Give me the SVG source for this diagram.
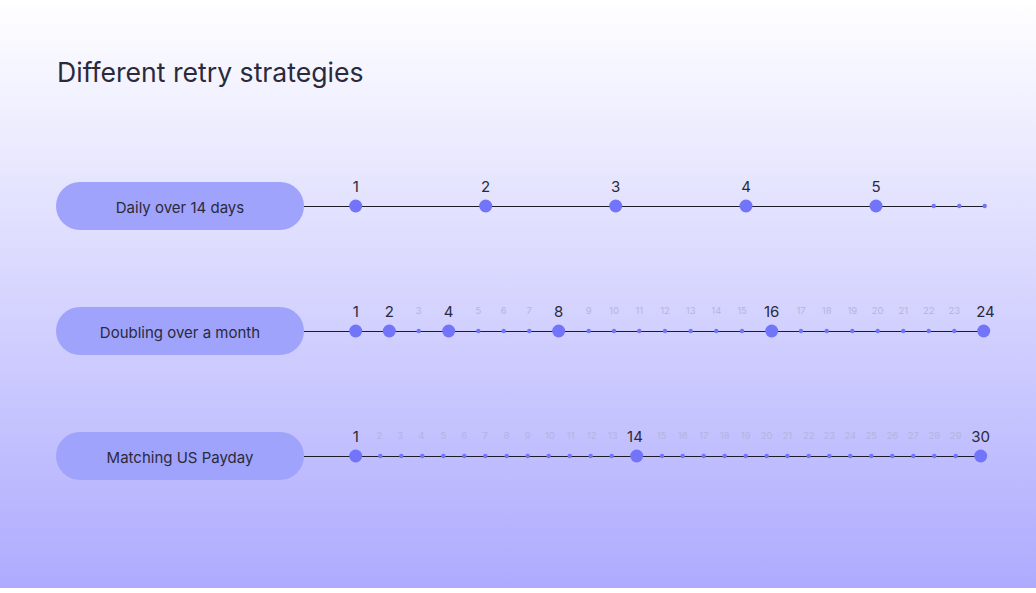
<svg xmlns="http://www.w3.org/2000/svg" width="1036" height="593" viewBox="0 0 1036 593">
<defs>
<linearGradient id="bg" x1="0" y1="0" x2="0" y2="1">
<stop offset="0" stop-color="#ffffff"/>
<stop offset="1" stop-color="#aeabfe"/>
</linearGradient>
<style>
.t{font-family:Inter,"Liberation Sans",sans-serif;fill:#2a2a3c}
.pill{fill:#a0a3fb}
.pl{font-size:15px;text-anchor:middle}
.ln{stroke:#1c1c28;stroke-width:1;fill:none}
.big{fill:#7274f9}
.sm{fill:#7274f9}
.bl{font-family:Inter,"Liberation Sans",sans-serif;font-size:15px;fill:#2a2a3c;text-anchor:middle}
.sl{font-family:Inter,"Liberation Sans",sans-serif;font-size:9.5px;fill:#b4b4de;text-anchor:middle}
</style>
</defs>
<rect x="0" y="0" width="1036" height="588" fill="url(#bg)"/>
<rect x="0" y="588" width="1036" height="5" fill="#ffffff"/>
<text class="t" x="57" y="82" font-size="26.6">Different retry strategies</text>

<g id="connectors">
<line class="ln" x1="304" y1="206.5" x2="985" y2="206.5"/>
<line class="ln" x1="304" y1="331.5" x2="984" y2="331.5"/>
<line class="ln" x1="304" y1="456.5" x2="981" y2="456.5"/>
</g>

<g id="node-daily">
<rect class="pill" x="56" y="182" width="248" height="48" rx="24"/>
<text class="t pl" x="180" y="213">Daily over 14 days</text>
</g>
<g id="node-doubling">
<rect class="pill" x="56" y="307" width="248" height="48" rx="24"/>
<text class="t pl" x="180" y="338">Doubling over a month</text>
</g>
<g id="node-payday">
<rect class="pill" x="56" y="432" width="248" height="48" rx="24"/>
<text class="t pl" x="180" y="463">Matching US Payday</text>
</g>

<g id="row-daily">
<circle class="big" cx="355.7" cy="206" r="6.5"/><text class="bl" x="355.7" y="192">1</text>
<circle class="big" cx="485.7" cy="206" r="6.5"/><text class="bl" x="485.7" y="192">2</text>
<circle class="big" cx="615.7" cy="206" r="6.5"/><text class="bl" x="615.7" y="192">3</text>
<circle class="big" cx="746" cy="206" r="6.5"/><text class="bl" x="746" y="192">4</text>
<circle class="big" cx="876" cy="206" r="6.5"/><text class="bl" x="876" y="192">5</text>
<circle class="sm" cx="933.7" cy="206" r="2.2"/>
<circle class="sm" cx="959.3" cy="206" r="2.2"/>
<circle class="sm" cx="984.7" cy="206" r="2.2"/>
</g>

<g id="row-doubling">
<circle class="big" cx="355.7" cy="331" r="6.5"/><text class="bl" x="355.7" y="317">1</text>
<circle class="big" cx="389.3" cy="331" r="6.5"/><text class="bl" x="389.3" y="317">2</text>
<circle class="sm" cx="418.7" cy="331" r="2.2"/><text class="sl" x="418.7" y="314">3</text>
<circle class="big" cx="448.7" cy="331" r="6.5"/><text class="bl" x="448.7" y="317">4</text>
<circle class="sm" cx="478.3" cy="331" r="2.2"/><text class="sl" x="478.3" y="314">5</text>
<circle class="sm" cx="503.7" cy="331" r="2.2"/><text class="sl" x="503.7" y="314">6</text>
<circle class="sm" cx="529.3" cy="331" r="2.2"/><text class="sl" x="529.3" y="314">7</text>
<circle class="big" cx="558.7" cy="331" r="6.5"/><text class="bl" x="558.7" y="317">8</text>
<circle class="sm" cx="588.7" cy="331" r="2.2"/><text class="sl" x="588.7" y="314">9</text>
<circle class="sm" cx="614" cy="331" r="2.2"/><text class="sl" x="614" y="314">10</text>
<circle class="sm" cx="639.3" cy="331" r="2.2"/><text class="sl" x="639.3" y="314">11</text>
<circle class="sm" cx="665" cy="331" r="2.2"/><text class="sl" x="665" y="314">12</text>
<circle class="sm" cx="690.7" cy="331" r="2.2"/><text class="sl" x="690.7" y="314">13</text>
<circle class="sm" cx="716.3" cy="331" r="2.2"/><text class="sl" x="716.3" y="314">14</text>
<circle class="sm" cx="742" cy="331" r="2.2"/><text class="sl" x="742" y="314">15</text>
<circle class="big" cx="771.7" cy="331" r="6.5"/><text class="bl" x="771.7" y="317">16</text>
<circle class="sm" cx="801" cy="331" r="2.2"/><text class="sl" x="801" y="314">17</text>
<circle class="sm" cx="826.7" cy="331" r="2.2"/><text class="sl" x="826.7" y="314">18</text>
<circle class="sm" cx="852.3" cy="331" r="2.2"/><text class="sl" x="852.3" y="314">19</text>
<circle class="sm" cx="877.7" cy="331" r="2.2"/><text class="sl" x="877.7" y="314">20</text>
<circle class="sm" cx="903.3" cy="331" r="2.2"/><text class="sl" x="903.3" y="314">21</text>
<circle class="sm" cx="928.7" cy="331" r="2.2"/><text class="sl" x="928.7" y="314">22</text>
<circle class="sm" cx="954.3" cy="331" r="2.2"/><text class="sl" x="954.3" y="314">23</text>
<circle class="big" cx="983.7" cy="331" r="6.5"/><text class="bl" x="985.5" y="317">24</text>
</g>

<g id="row-payday">
<circle class="big" cx="355.7" cy="456" r="6.5"/><text class="bl" x="355.7" y="442">1</text>
<circle class="sm" cx="380.3" cy="456" r="2.2"/><text class="sl" x="379.3" y="439">2</text>
<circle class="sm" cx="401.3" cy="456" r="2.2"/><text class="sl" x="400.3" y="439">3</text>
<circle class="sm" cx="422.3" cy="456" r="2.2"/><text class="sl" x="421.3" y="439">4</text>
<circle class="sm" cx="443.3" cy="456" r="2.2"/><text class="sl" x="443.3" y="439">5</text>
<circle class="sm" cx="464.3" cy="456" r="2.2"/><text class="sl" x="464.3" y="439">6</text>
<circle class="sm" cx="485.3" cy="456" r="2.2"/><text class="sl" x="485.3" y="439">7</text>
<circle class="sm" cx="506.7" cy="456" r="2.2"/><text class="sl" x="506.7" y="439">8</text>
<circle class="sm" cx="527.7" cy="456" r="2.2"/><text class="sl" x="527.7" y="439">9</text>
<circle class="sm" cx="548.7" cy="456" r="2.2"/><text class="sl" x="549.7" y="439">10</text>
<circle class="sm" cx="569.7" cy="456" r="2.2"/><text class="sl" x="570.7" y="439">11</text>
<circle class="sm" cx="590.7" cy="456" r="2.2"/><text class="sl" x="591.7" y="439">12</text>
<circle class="sm" cx="611.7" cy="456" r="2.2"/><text class="sl" x="612.7" y="439">13</text>
<circle class="big" cx="636.7" cy="456" r="6.5"/><text class="bl" x="635" y="442">14</text>
<circle class="sm" cx="662" cy="456" r="2.2"/><text class="sl" x="661.5" y="439">15</text>
<circle class="sm" cx="682.7" cy="456" r="2.2"/><text class="sl" x="682.7" y="439">16</text>
<circle class="sm" cx="703.7" cy="456" r="2.2"/><text class="sl" x="703.7" y="439">17</text>
<circle class="sm" cx="724.7" cy="456" r="2.2"/><text class="sl" x="724.7" y="439">18</text>
<circle class="sm" cx="745.7" cy="456" r="2.2"/><text class="sl" x="745.7" y="439">19</text>
<circle class="sm" cx="766.7" cy="456" r="2.2"/><text class="sl" x="766.7" y="439">20</text>
<circle class="sm" cx="787.3" cy="456" r="2.2"/><text class="sl" x="787.3" y="439">21</text>
<circle class="sm" cx="808.7" cy="456" r="2.2"/><text class="sl" x="808.7" y="439">22</text>
<circle class="sm" cx="829.3" cy="456" r="2.2"/><text class="sl" x="829.3" y="439">23</text>
<circle class="sm" cx="850.3" cy="456" r="2.2"/><text class="sl" x="850.3" y="439">24</text>
<circle class="sm" cx="871.3" cy="456" r="2.2"/><text class="sl" x="871.3" y="439">25</text>
<circle class="sm" cx="892.3" cy="456" r="2.2"/><text class="sl" x="892.3" y="439">26</text>
<circle class="sm" cx="913.3" cy="456" r="2.2"/><text class="sl" x="913.3" y="439">27</text>
<circle class="sm" cx="934.3" cy="456" r="2.2"/><text class="sl" x="934.3" y="439">28</text>
<circle class="sm" cx="955.7" cy="456" r="2.2"/><text class="sl" x="955.7" y="439">29</text>
<circle class="big" cx="980.7" cy="456" r="6.5"/><text class="bl" x="980.7" y="442">30</text>
</g>
</svg>
